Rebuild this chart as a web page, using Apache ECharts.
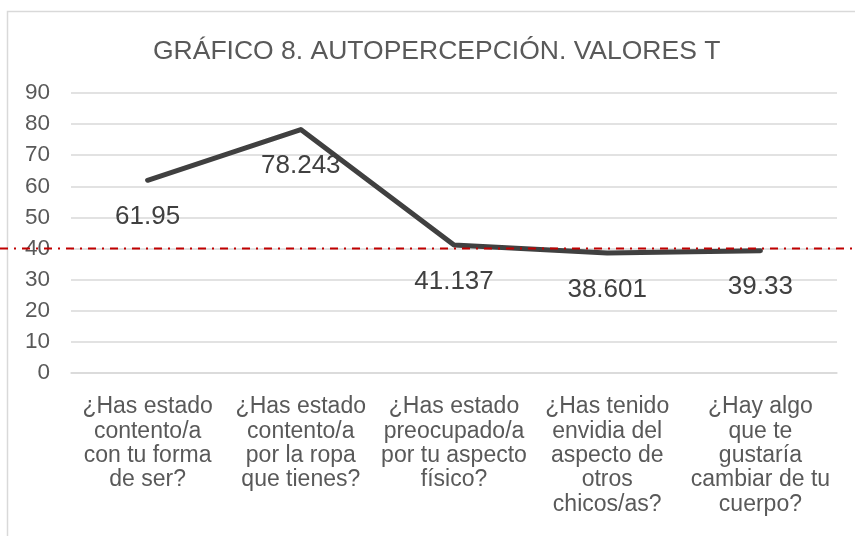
<!DOCTYPE html>
<html>
<head>
<meta charset="utf-8">
<script src="https://cdn.jsdelivr.net/npm/echarts@6/dist/echarts.min.js"></script>
<style>
  html, body { margin: 0; padding: 0; background: #fff; }
  #chart { width: 855px; height: 536px; }
</style>
</head>
<body>
<div id="chart"></div>
<script>
  var categories = [
    '¿Has estado\ncontento/a\ncon tu forma\nde ser?',
    '¿Has estado\ncontento/a\npor la ropa\nque tienes?',
    '¿Has estado\npreocupado/a\npor tu aspecto\nfísico?',
    '¿Has tenido\nenvidia del\naspecto de\notros\nchicos/as?',
    '¿Hay algo\nque te\ngustaría\ncambiar de tu\ncuerpo?'
  ];
  var valoresT = [61.95, 78.243, 41.137, 38.601, 39.33];
  var referencia = 40;

  var chart = echarts.init(document.getElementById('chart'));
  var font = '"Liberation Sans", Arial, sans-serif';

  chart.setOption({
    animation: false,
    backgroundColor: '#fff',
    textStyle: { fontFamily: font },
    graphic: [{
      type: 'rect',
      left: 5, top: 9,
      shape: { width: 870, height: 560 },
      style: { fill: 'none', stroke: '#d9d9d9', lineWidth: 1.5 },
      silent: true
    }],
    title: {
      text: 'GRÁFICO 8. AUTOPERCEPCIÓN. VALORES T',
      left: 148,
      top: 33,
      textStyle: { fontFamily: font, fontSize: 26.5, fontWeight: 'normal', color: '#595959' }
    },
    grid: [
      { left: 71, right: 18, top: 93, bottom: 163 },
      { left: 0, right: 0, top: 93, bottom: 163 }
    ],
    xAxis: [{
      type: 'category',
      gridIndex: 0,
      data: categories,
      axisLine: { lineStyle: { color: '#d9d9d9', width: 1.5 } },
      axisTick: { show: false },
      axisLabel: {
        interval: 0,
        margin: 22,
        fontSize: 23,
        lineHeight: 24.3,
        color: '#595959',
        fontFamily: font
      }
    }, {
      type: 'value',
      gridIndex: 1,
      min: 0, max: 1,
      show: false
    }],
    yAxis: [{
      type: 'value',
      gridIndex: 0,
      min: 0, max: 90, interval: 10,
      axisLine: { show: false },
      axisTick: { show: false },
      splitLine: { lineStyle: { color: '#d9d9d9', width: 1.5 } },
      axisLabel: { margin: 21, fontSize: 22.5, color: '#595959', fontFamily: font }
    }, {
      type: 'value',
      gridIndex: 1,
      min: 0, max: 90,
      show: false
    }],
    series: [{
      type: 'line',
      data: valoresT,
      symbol: 'circle',
      symbolSize: 1,
      showSymbol: true,
      itemStyle: { color: '#404040' },
      lineStyle: { color: '#404040', width: 5, cap: 'round', join: 'round' },
      label: {
        show: true,
        position: 'bottom',
        distance: 23,
        fontSize: 26,
        color: '#404040',
        fontFamily: font
      },
      z: 2
    }, {
      type: 'line',
      xAxisIndex: 1,
      yAxisIndex: 1,
      data: [[0, referencia], [1, referencia]],
      symbol: 'none',
      lineStyle: { color: '#c00000', width: 2, type: [8, 6, 2, 6] },
      z: 5
    }]
  });
</script>
</body>
</html>
